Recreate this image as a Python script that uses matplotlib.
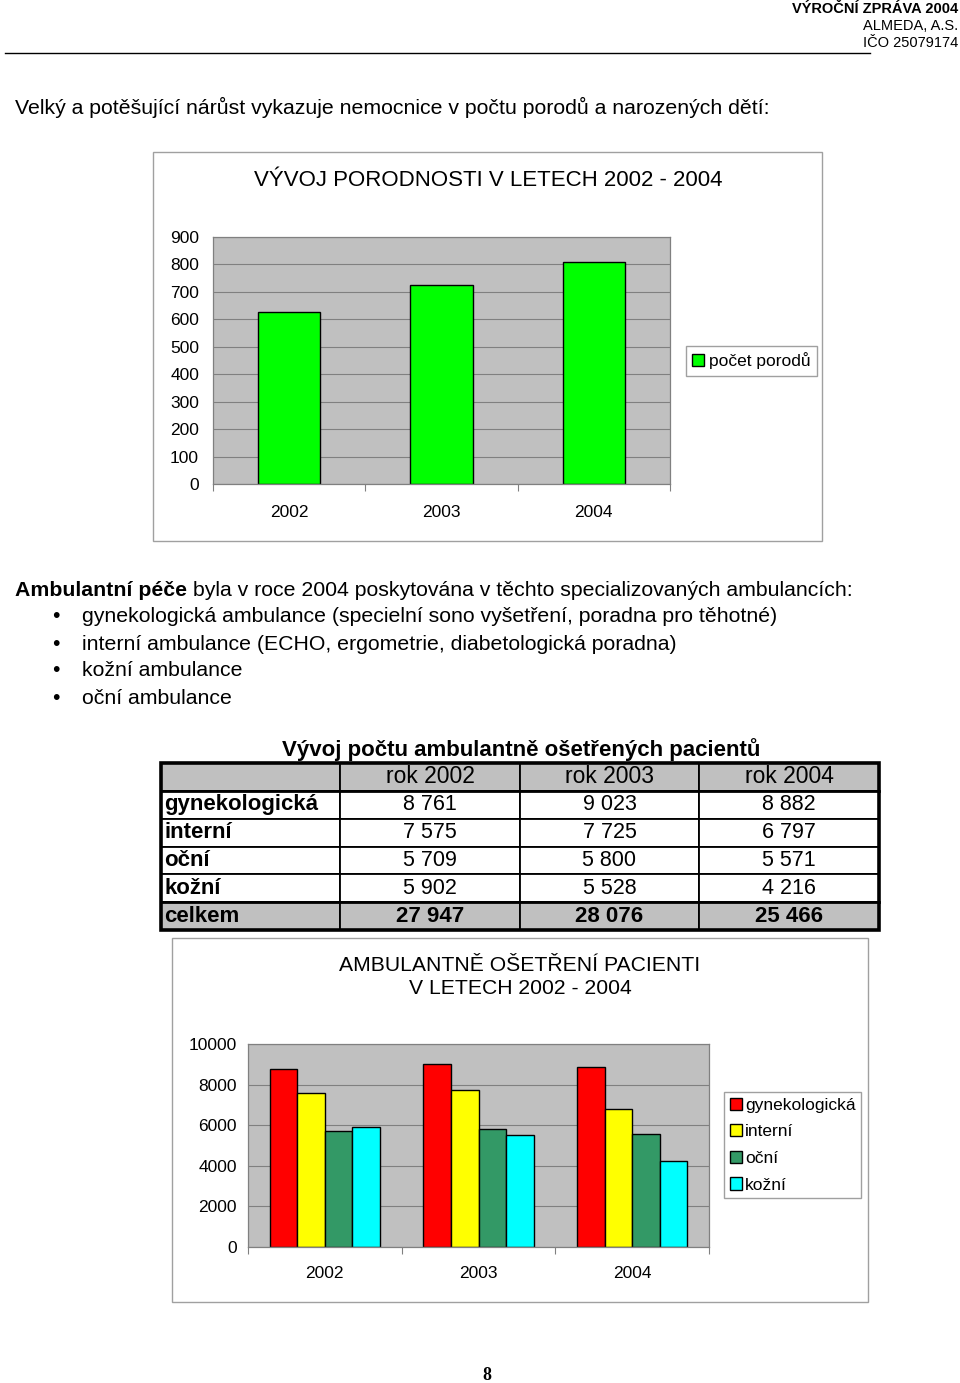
import matplotlib.pyplot as plt
from matplotlib.patches import Rectangle

plt.rcParams['font.family'] = ['Liberation Sans', 'DejaVu Sans']

# Data
years = ['2002', '2003', '2004']
births = [627, 724, 809]

clinics = ['gynekologická', 'interní', 'oční', 'kožní']
patients = {
    'gynekologická': [8761, 9023, 8882],
    'interní': [7575, 7725, 6797],
    'oční': [5709, 5800, 5571],
    'kožní': [5902, 5528, 4216],
}
clinic_colors = ['#ff0000', '#ffff00', '#339966', '#00ffff']

bullets = [
    'gynekologická ambulance (specielní sono vyšetření, poradna pro těhotné)',
    'interní ambulance (ECHO, ergometrie, diabetologická poradna)',
    'kožní ambulance',
    'oční ambulance',
]

W, H = 960, 1383
fig = plt.figure(figsize=(W / 100, H / 100), dpi=100)


def rect(x0, y0, x1, y1):
    return [x0 / W, 1 - y1 / H, (x1 - x0) / W, (y1 - y0) / H]


def txt(x, y, s, **kw):
    kw.setdefault('va', 'center')
    return fig.text(x / W, 1 - y / H, s, **kw)


def frame(x0, y0, x1, y1):
    fig.add_artist(Rectangle((x0 / W, 1 - y1 / H), (x1 - x0) / W, (y1 - y0) / H,
                             transform=fig.transFigure, fill=False,
                             edgecolor='#a0a0a0', lw=1))


def fmt(v):
    return f'{v:,}'.replace(',', ' ')


def style_axes(ax, ypad, xpad):
    ax.set_facecolor('#c0c0c0')
    ax.set_axisbelow(True)
    ax.grid(axis='y', color='#808080', lw=0.8)
    for sp in ax.spines.values():
        sp.set_color('#808080')
        sp.set_linewidth(0.9)
    ax.set_xlim(-0.5, 2.5)
    ax.set_xticks([-0.5, 0.5, 1.5, 2.5])
    ax.set_xticklabels([])
    ax.set_xticks([0, 1, 2], minor=True)
    ax.set_xticklabels(years, minor=True)
    ax.tick_params(axis='x', which='major', length=5, color='#808080', direction='out')
    ax.tick_params(axis='x', which='minor', length=0, pad=xpad, labelsize=12.5)
    ax.tick_params(axis='y', length=0, pad=ypad, labelsize=12.5)


# Header
txt(958, 9, 'VÝROČNÍ ZPRÁVA 2004', ha='right', fontsize=10.5, fontweight='bold')
txt(958, 26, 'ALMEDA, A.S.', ha='right', fontsize=10.5)
txt(958, 43, 'IČO 25079174', ha='right', fontsize=10.5)
fig.add_artist(plt.Line2D([5 / W, 870 / W], [1 - 53 / H, 1 - 53 / H],
                          transform=fig.transFigure, color='black', lw=1))

body = 15.3
txt(15, 107, 'Velký a potěšující nárůst vykazuje nemocnice v počtu porodů a narozených dětí:',
    fontsize=body)

# Chart 1
frame(153, 152, 822, 541)
ax1 = fig.add_axes(rect(213, 237, 670, 484))
ax1.bar(range(len(years)), births, width=0.41, color='#00ff00', edgecolor='black',
        lw=1, label='počet porodů')
ax1.set_ylim(0, 900)
ax1.set_yticks(range(0, 901, 100))
style_axes(ax1, 10, 15)
txt(488, 180, 'VÝVOJ PORODNOSTI V LETECH 2002 - 2004', ha='center', fontsize=16)
ax1.legend(loc='center left', bbox_to_anchor=(686 / W, 1 - 361 / H),
           bbox_transform=fig.transFigure, fancybox=False, edgecolor='#a0a0a0',
           framealpha=1, fontsize=12.5, handlelength=0.7, handleheight=0.7,
           handletextpad=0.3, borderpad=0.35, borderaxespad=0)

# Paragraph
txt(15, 590, 'Ambulantní péče', fontsize=body, fontweight='bold')
txt(193, 590, 'byla v roce 2004 poskytována v těchto specializovaných ambulancích:',
    fontsize=body)
for i, b in enumerate(bullets):
    y = 617 + 27 * i
    txt(52, y, '•', fontsize=body)
    txt(82, y, b, fontsize=body)

# Table
txt(521, 750, 'Vývoj počtu ambulantně ošetřených pacientů', ha='center',
    fontsize=16, fontweight='bold')
totals = [sum(patients[c][k] for c in clinics) for k in range(len(years))]
cell_text = [[''] + ['rok ' + y for y in years]]
cell_text += [[c] + [fmt(v) for v in patients[c]] for c in clinics]
cell_text += [['celkem'] + [fmt(v) for v in totals]]

axt = fig.add_axes(rect(161, 763, 879, 930))
axt.axis('off')
tbl = axt.table(cellText=cell_text, cellLoc='center', bbox=[0, 0, 1, 1],
                colWidths=[179 / 718, 180 / 718, 179 / 718, 180 / 718])
tbl.auto_set_font_size(False)
nrows = len(cell_text)
for (r, c), cell in tbl.get_celld().items():
    cell.set_edgecolor('black')
    cell.set_linewidth(1.3)
    if r in (0, nrows - 1):
        cell.set_facecolor('#c0c0c0')
    t = cell.get_text()
    if c == 0:
        t.set_ha('left')
        cell.PAD = 0.02
        t.set_fontweight('bold')
        t.set_fontsize(16)
    elif r == 0:
        t.set_fontsize(16.5)
    elif r == nrows - 1:
        t.set_fontweight('bold')
        t.set_fontsize(16)
    else:
        t.set_fontsize(15.5)
axt.add_patch(Rectangle((0, 0), 1, 1, transform=axt.transAxes, fill=False,
                        edgecolor='black', lw=2.6, clip_on=False, zorder=5))
for yy in (1 - 1 / nrows, 1 / nrows):
    axt.plot([0, 1], [yy, yy], transform=axt.transAxes, color='black', lw=2,
             clip_on=False, zorder=5)

# Chart 2
frame(172, 938, 868, 1302)
ax2 = fig.add_axes(rect(248, 1044, 709, 1247))
w = 0.18
for j, c in enumerate(clinics):
    xs = [i + (j - 1.5) * w for i in range(len(years))]
    ax2.bar(xs, patients[c], width=w, color=clinic_colors[j], edgecolor='black',
            lw=1, label=c)
ax2.set_ylim(0, 10000)
ax2.set_yticks(range(0, 10001, 2000))
style_axes(ax2, 8, 13.5)
txt(520, 977, 'AMBULANTNĚ OŠETŘENÍ PACIENTI\nV LETECH 2002 - 2004', ha='center',
    fontsize=15.2, linespacing=1.22)
ax2.legend(loc='upper left', bbox_to_anchor=(724 / W, 1 - 1092 / H),
           bbox_transform=fig.transFigure, fancybox=False, edgecolor='#a0a0a0',
           framealpha=1, fontsize=12.5, handlelength=0.7, handleheight=0.7,
           handletextpad=0.2, borderpad=0.32, labelspacing=0.66, borderaxespad=0)

# Page number
txt(487, 1375, '8', ha='center', fontsize=13, fontweight='bold',
    family='Liberation Serif')

fig.savefig('out.png', dpi=100)
